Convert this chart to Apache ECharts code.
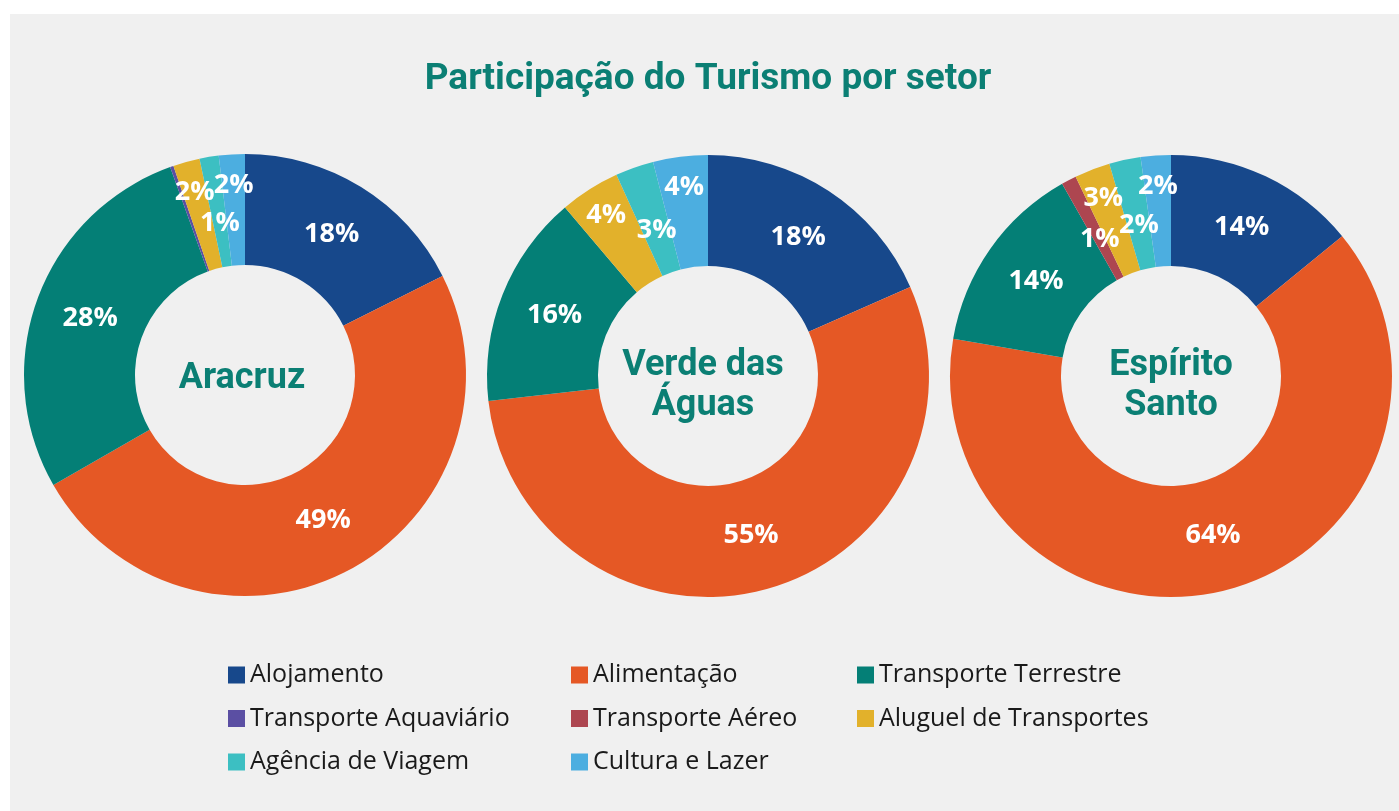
<!DOCTYPE html>
<html>
<head>
<meta charset="utf-8">
<title>Participação do Turismo por setor</title>
<script src="https://cdn.jsdelivr.net/npm/echarts@6/dist/echarts.min.js"></script>
<style>
	html, body {
		margin: 0;
		padding: 0;
		background: #ffffff;
	}
	#chart {
		width: 1399px;
		height: 811px;
	}
</style>
</head>
<body>
<div id="chart"></div>
<script>
	// setores (ordem das fatias, sentido horário a partir do topo)
	var setores = ['Alojamento', 'Alimentação', 'Transporte Terrestre', 'Transporte Aquaviário',
		'Transporte Aéreo', 'Aluguel de Transportes', 'Agência de Viagem', 'Cultura e Lazer'];
	var cores = ['#17488b', '#e55825', '#047f76', '#5b4fa3', '#ad4650', '#e2b12b', '#3cbfc2', '#4caee0'];

	// participação (%)
	var aracruz = [17.6, 49.1, 27.8, 0.25, 0, 1.95, 1.4, 1.9];
	var verdeDasAguas = [18.4, 54.8, 15.6, 0, 0, 4.4, 2.8, 4.0];
	var espiritoSanto = [14.1, 63.6, 14.1, 0, 1.1, 2.6, 2.3, 2.2];

	var verde = '#0b7f74';

	function dados(vals) {
		return setores.map(function(nome, i) {
			return { name: nome, value: vals[i] };
		});
	}

	// fatias pequenas: rótulos alternam entre mais externo e mais interno
	function layoutRotulos(cx, cy, vals) {
		return function(p) {
			var i = p.dataIndex;
			var r = 165;
			if (vals[i] < 5) {
				var k = 0;
				for (var j = vals.length - 1; j > i; j--) {
					if (vals[j] >= 0.5 && vals[j] < 5) k++;
				}
				r = k % 2 === 0 ? 190 : 154;
			}
			var lx = p.labelRect.x + p.labelRect.width / 2;
			var ly = p.labelRect.y + p.labelRect.height / 2;
			var dx = lx - cx, dy = ly - cy;
			var d = Math.sqrt(dx * dx + dy * dy) || 1;
			return { dx: dx / d * r - dx, dy: dy / d * r - dy };
		};
	}

	function rosca(nome, vals, cx, cy) {
		return {
			name: nome,
			type: 'pie',
			center: [cx, cy],
			radius: [110, 221],
			startAngle: 90,
			clockwise: true,
			avoidLabelOverlap: false,
			silent: true,
			itemStyle: { borderWidth: 0 },
			label: {
				show: true,
				position: 'inside',
				color: '#ffffff',
				fontFamily: 'Open Sans',
				fontWeight: 'bold',
				fontSize: 27,
				formatter: function(p) {
					return p.value < 0.5 ? '' : Math.round(p.value) + '%';
				}
			},
			labelLine: { show: false },
			labelLayout: layoutRotulos(cx, cy, vals),
			data: dados(vals)
		};
	}

	function legenda(itens, x) {
		return {
			orient: 'vertical',
			left: x,
			top: 660,
			padding: 0,
			icon: 'rect',
			itemWidth: 17,
			itemHeight: 17,
			itemGap: 13.5,
			selectedMode: false,
			textStyle: {
				fontFamily: 'Open Sans',
				fontSize: 25,
				lineHeight: 30,
				color: '#1a1a1a'
			},
			data: itens
		};
	}

	function rotuloCentro(texto, x, y) {
		return {
			text: texto,
			left: x,
			top: y,
			padding: 0,
			textAlign: 'center',
			textStyle: {
				fontFamily: 'Roboto',
				fontWeight: 'bold',
				fontSize: 36,
				lineHeight: 40,
				color: verde
			}
		};
	}

	var chart = echarts.init(document.getElementById('chart'));
	chart.setOption({
		backgroundColor: '#ffffff',
		color: cores,
		animation: false,
		graphic: [{
			type: 'rect',
			z: -10,
			shape: { x: 10, y: 14, width: 1389, height: 797 },
			style: { fill: '#f0f0f0' }
		}],
		title: [{
			text: 'Participação do Turismo por setor',
			left: 708,
			top: 61,
			padding: 0,
			textAlign: 'center',
			textStyle: {
				fontFamily: 'Roboto',
				fontWeight: 'bold',
				fontSize: 37,
				color: verde
			}
		},
			rotuloCentro('Aracruz', 242, 359),
			rotuloCentro('Verde das\nÁguas', 703, 346),
			rotuloCentro('Espírito\nSanto', 1171, 346)
		],
		legend: [
			legenda(['Alojamento', 'Transporte Aquaviário', 'Agência de Viagem'], 228),
			legenda(['Alimentação', 'Transporte Aéreo', 'Cultura e Lazer'], 571),
			legenda(['Transporte Terrestre', 'Aluguel de Transportes'], 857)
		],
		series: [
			rosca('Aracruz', aracruz, 245, 375),
			rosca('Verde das Águas', verdeDasAguas, 708, 376),
			rosca('Espírito Santo', espiritoSanto, 1171, 376)
		]
	});
</script>
</body>
</html>
